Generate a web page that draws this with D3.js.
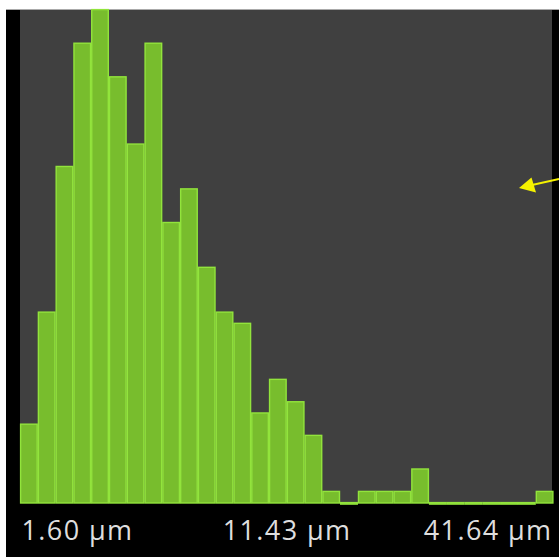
<!DOCTYPE html>
<html>
<head>
<meta charset="utf-8">
<script src="https://cdn.jsdelivr.net/npm/d3@7"></script>
<style>
  html, body { margin: 0; padding: 0; background: #fff; }
  svg { display: block; }
</style>
</head>
<body>
<div id="chart"></div>
<script>
(function () {

  // counts per bin, 30 bins
  const counts = [7, 17, 30, 41, 44, 38, 32, 41, 25, 28, 21, 17, 16, 8, 11, 9, 6, 1, 0, 1, 1, 1, 3, 0, 0, 0, 0, 0, 0, 1]
  const tickLabels = ['1.60 µm', '11.43 µm', '41.64 µm']
  const yMax = 44

  const W = 559, H = 557
  const panel = { left: 6, top: 9 }
  const plot = { left: 20, right: 552, top: 9, bottom: 503 }

  const svg = d3.select('#chart').append('svg')
      .attr('width', W)
      .attr('height', H)

  // black panel + gray plot area
  svg.append('rect')
    .attr('x', panel.left).attr('y', panel.top)
    .attr('width', W - panel.left).attr('height', H - panel.top)
    .attr('fill', '#000')
  svg.append('line')
    .attr('x1', panel.left).attr('x2', W)
    .attr('y1', panel.top + 0.5).attr('y2', panel.top + 0.5)
    .attr('stroke', '#aaa')
  svg.append('rect')
    .attr('x', plot.left).attr('y', plot.top + 1)
    .attr('width', plot.right - plot.left).attr('height', plot.bottom - plot.top - 1)
    .attr('fill', '#404040')

  const xScale = d3.scaleBand()
    .domain(d3.range(counts.length))
    .range([plot.left, plot.right + 1.5])
    .paddingInner(0)

  const yScale = d3.scaleLinear()
    .domain([0, yMax])
    .range([plot.bottom - 1, plot.top])

  // bars (empty bins still show a thin sliver)
  svg.selectAll('.bar')
    .data(counts)
    .join('rect')
    .attr('class', 'bar')
    .attr('x', (d, i) => xScale(i) + 0.6)
    .attr('width', xScale.bandwidth() - 1.2)
    .attr('y', d => yScale(d) + 0.6)
    .attr('height', d => Math.max(1.5, plot.bottom - yScale(d) - 0.6))
    .attr('fill', '#78bd2d')
    .attr('stroke', '#92e43c')
    .attr('stroke-width', 1.4)

  // bottom labels: min, middle, max
  const labelScale = d3.scalePoint()
    .domain(tickLabels)
    .range([plot.left + 1, plot.right])

  const xAxis = d3.axisBottom(labelScale).tickSize(0).tickPadding(0)
  const ax = svg.append('g')
    .attr('transform', 'translate(0,' + 521 + ')')
    .call(xAxis)
  ax.select('.domain').remove()
  ax.selectAll('text')
    .attr('fill', '#dedede')
    .attr('font-family', '"Open Sans", "Noto Sans", sans-serif')
    .attr('font-size', 27)
    .attr('letter-spacing', 1.4)
    .attr('dy', '0.72em')
    .attr('text-anchor', (d, i) => i === 0 ? 'start' : (i === tickLabels.length - 1 ? 'end' : 'middle'))

  // yellow pointer arrow on the right
  const arrow = svg.append('g')
  arrow.append('line')
    .attr('x1', W).attr('y1', 179)
    .attr('x2', 532).attr('y2', 185)
    .attr('stroke', '#f5f200')
    .attr('stroke-width', 2)
  arrow.append('path')
    .attr('d', 'M519,188 L531.5,177.5 L536,192.5 Z')
    .attr('fill', '#f5f200')

})();
</script>
</body>
</html>
